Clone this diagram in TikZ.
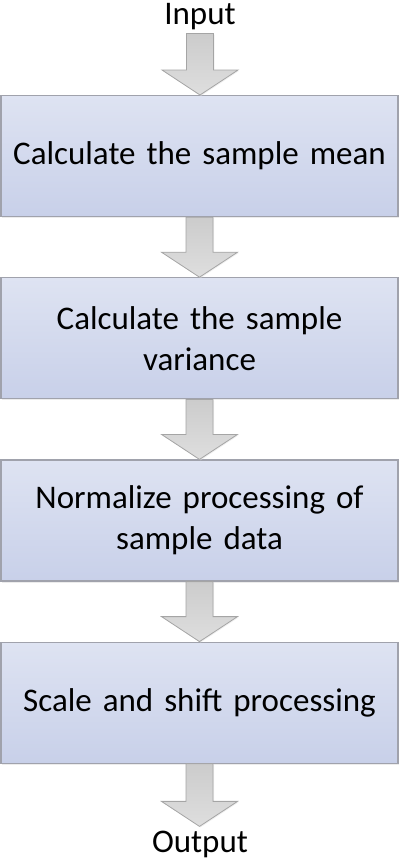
\documentclass[tikz,border=0pt]{standalone}
\usepackage{fontspec}
\setmainfont{Carlito}
\usetikzlibrary{positioning, calc, shadows}

\definecolor{boxtop}{RGB}{222,227,242}
\definecolor{boxbot}{RGB}{200,208,233}
\definecolor{boxline}{RGB}{160,162,172}
\definecolor{arrtop}{RGB}{204,204,204}
\definecolor{arrbot}{RGB}{222,222,222}
\definecolor{arrline}{RGB}{165,165,165}

% block arrow from the bottom of one node to the top of the next
\newcommand{\blockarrow}[2]{%
  \draw[blockarrow] let \p1=(#1.south), \p2=(#2.north) in
    (\x1-13.5pt,\y1) -- (\x1-13.5pt,\y2+25pt) -- (\x1-38pt,\y2+25pt) -- (\x1,\y2)
    -- (\x1+38pt,\y2+25pt) -- (\x1+13.5pt,\y2+25pt) -- (\x1+13.5pt,\y1) -- cycle;}

\begin{document}
\begin{tikzpicture}[
    x=1pt, y=-1pt,
    node distance=60pt,
    stage/.style={rectangle, draw=boxline, line width=1.2pt, top color=boxtop, bottom color=boxbot, minimum width=397pt, minimum height=121pt, inner sep=1pt, text width=392pt, align=center, font=\fontsize{33}{41}\selectfont, drop shadow={shadow xshift=1pt, shadow yshift=-1.5pt, fill=black!15}},
    term/.style={inner sep=4pt, font=\fontsize{33}{41}\selectfont},
    blockarrow/.style={draw=arrline, line width=0.8pt, top color=arrtop, bottom color=arrbot, drop shadow={shadow xshift=1pt, shadow yshift=-1pt, fill=black!12}}
]
\useasboundingbox (0,0) rectangle (400,863);
\node[term, anchor=base] (input) at (200,24) {Input};
\node[stage, anchor=north] (mean) at (199.5,95) {Calculate the sample mean};
\node[stage, below=of mean] (var) {Calculate the sample\\variance};
\node[stage, below=of var] (norm) {Normalize processing of\\sample data};
\node[stage, below=of norm] (scale) {Scale and shift processing};
\node[term, anchor=base] (output) at (200,852) {Output};

\blockarrow{input}{mean}
\blockarrow{mean}{var}
\blockarrow{var}{norm}
\blockarrow{norm}{scale}
\blockarrow{scale}{output}
\end{tikzpicture}
\end{document}
